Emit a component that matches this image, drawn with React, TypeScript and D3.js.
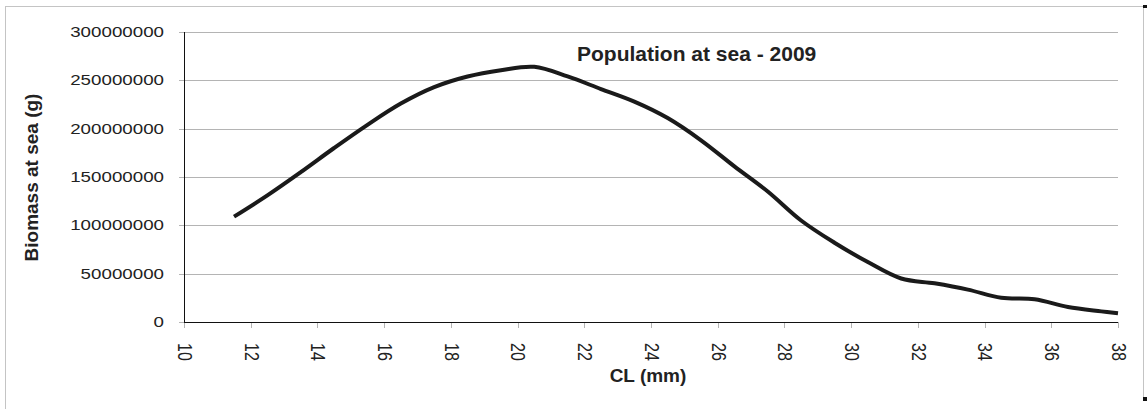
import React from 'react';
import * as d3 from 'd3';

const clValues = [11.5, 12.5, 13.5, 14.5, 15.5, 16.5, 17.5, 18.5, 19.5, 20.5, 21.5, 22.5, 23.5, 24.5, 25.5, 26.5, 27.5, 28.5, 29.5, 30.5, 31.5, 32.5, 33.5, 34.5, 35.5, 36.5, 37.5, 38];
const biomassValues = [109e6, 131e6, 155e6, 180e6, 204e6, 226e6, 243e6, 254e6, 260.5e6, 264e6, 254e6, 241e6, 228e6, 211e6, 188e6, 161e6, 135e6, 105e6, 82e6, 62e6, 45e6, 40e6, 33.5e6, 25e6, 23.5e6, 15.5e6, 11e6, 9e6];
const yTickValues = [0, 50e6, 100e6, 150e6, 200e6, 250e6, 300e6];
const xTickValues = [10, 12, 14, 16, 18, 20, 22, 24, 26, 28, 30, 32, 34, 36, 38];
const chartTitle = 'Population at sea - 2009';
const xAxisTitle = 'CL (mm)';
const yAxisTitle = 'Biomass at sea (g)';

const W = 1148;
const H = 409;
const FONT = "'Liberation Sans', Arial, Helvetica, sans-serif";

export default function App() {
  const x = d3.scaleLinear().domain([10, 38]).range([184, 1118]);
  const y = d3.scaleLinear().domain([0, 300e6]).range([322, 32]);
  const data = clValues.map((c, i) => [c, biomassValues[i]] as [number, number]);
  const line = d3
    .line<[number, number]>()
    .x((d) => x(d[0]))
    .y((d) => y(d[1]))
    .curve(d3.curveCatmullRom.alpha(0.5));
  const px = (v: number) => Math.round(v) + 0.5;
  const gridColor = '#b4b4b4';
  const textColor = '#222';

  return (
    <svg
      width={W}
      height={H}
      viewBox={`0 0 ${W} ${H}`}
      style={{ position: 'absolute', left: 0, top: 0, background: '#fff' }}
      fontFamily={FONT}
    >
      <rect x={0} y={0} width={W} height={H} fill="#fff" />
      {/* outer frame */}
      <line x1={5.5} x2={5.5} y1={6} y2={H} stroke="#c4c4c4" />
      <line x1={5} x2={1144} y1={6.5} y2={6.5} stroke="#c4c4c4" />
      <line x1={1143.5} x2={1143.5} y1={6} y2={400} stroke="#c4c4c4" />
      <rect x={1143} y={5} width={4} height={3} fill="#111" />
      <rect x={1143} y={397} width={4} height={4} fill="#111" />

      {/* gridlines */}
      {yTickValues
        .filter((v) => v > 0)
        .map((v) => (
          <line key={'g' + v} x1={184} x2={1118} y1={px(y(v))} y2={px(y(v))} stroke={gridColor} />
        ))}
      {/* y ticks */}
      {yTickValues.map((v) => (
        <line key={'yt' + v} x1={179} x2={184} y1={px(y(v))} y2={px(y(v))} stroke={gridColor} />
      ))}
      {/* x ticks */}
      {xTickValues.map((v) => (
        <line key={'xt' + v} x1={px(x(v))} x2={px(x(v))} y1={322} y2={328} stroke={gridColor} />
      ))}
      {/* axes */}
      <line x1={px(x(10))} x2={px(x(10))} y1={32} y2={323} stroke="#111" />
      <line x1={184} x2={1118} y1={px(y(0))} y2={px(y(0))} stroke="#111" />

      {/* y tick labels */}
      {yTickValues.map((v) => (
        <text
          key={'yl' + v}
          transform={`translate(164, ${y(v)}) scale(1.25, 1)`}
          textAnchor="end"
          dominantBaseline="central"
          fontSize={15}
          fill={textColor}
        >
          {d3.format('d')(v)}
        </text>
      ))}
      {/* x tick labels */}
      {xTickValues.map((v) => (
        <text
          key={'xl' + v}
          transform={`translate(${x(v) + 0.5}, 343) scale(1.25, 1) rotate(90)`}
          textAnchor="start"
          dominantBaseline="central"
          fontSize={16}
          fill={textColor}
        >
          {v}
        </text>
      ))}

      {/* data line */}
      <path d={line(data) || ''} fill="none" stroke="#1a1a1a" strokeWidth={4} strokeLinejoin="round" strokeLinecap="butt" />

      {/* titles */}
      <text x={577} y={61} fontSize={21} fontWeight="bold" fill={textColor}>
        {chartTitle}
      </text>
      <text x={648} y={382} fontSize={19} fontWeight="bold" textAnchor="middle" fill={textColor}>
        {xAxisTitle}
      </text>
      <text
        transform="translate(38, 177.5) rotate(-90)"
        fontSize={19}
        fontWeight="bold"
        textAnchor="middle"
        fill={textColor}
      >
        {yAxisTitle}
      </text>
    </svg>
  );
}
